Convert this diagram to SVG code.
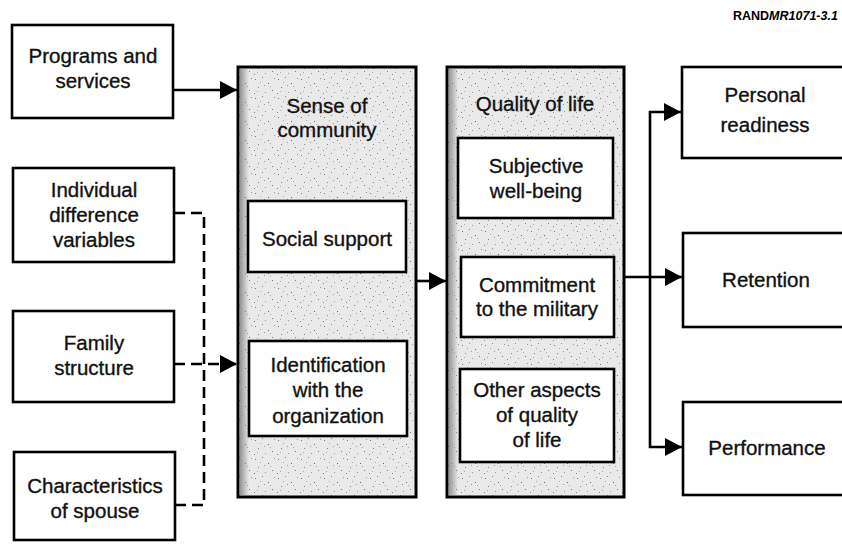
<svg xmlns="http://www.w3.org/2000/svg" width="842" height="546" viewBox="0 0 842 546">
<style>
.box{fill:#fff;stroke:#000;stroke-width:2.6}
.panel{fill:url(#stip);stroke:#000;stroke-width:3}
.t{font-family:"Liberation Sans",Arial,sans-serif;font-size:20.5px;fill:#111;stroke:#111;stroke-width:0.35;text-anchor:middle}
.c{fill:none;stroke:#000;stroke-width:2.6}
.d{fill:none;stroke:#000;stroke-width:2.6;stroke-dasharray:11 6}
</style>
<defs>
<marker id="ah" markerUnits="userSpaceOnUse" markerWidth="18" markerHeight="20" refX="17" refY="10" orient="auto">
<path d="M0,1 L17,10 L0,19 z" fill="#000"/>
</marker>
<pattern id="stip" width="23" height="19" patternUnits="userSpaceOnUse">
<rect width="23" height="19" fill="#e9e9e9"/>
<rect x="2" y="3" width="1" height="1" fill="#777"/>
<rect x="9" y="1" width="1" height="1" fill="#888"/>
<rect x="15" y="7" width="1" height="1" fill="#666"/>
<rect x="5" y="11" width="1" height="1" fill="#888"/>
<rect x="19" y="14" width="1" height="1" fill="#777"/>
<rect x="12" y="16" width="1" height="1" fill="#999"/>
<rect x="7" y="6" width="1" height="1" fill="#aaa"/>
<rect x="21" y="2" width="1" height="1" fill="#999"/>
<rect x="1" y="17" width="1" height="1" fill="#888"/>
<rect x="17" y="10" width="1" height="1" fill="#aaa"/>
<rect x="11" y="9" width="1" height="1" fill="#999"/>
<rect x="4" y="15" width="1" height="1" fill="#aaa"/>
</pattern>
<linearGradient id="edge" x1="0" x2="1" y1="0" y2="0">
<stop offset="0" stop-color="#959595"/>
<stop offset="1" stop-color="#959595" stop-opacity="0"/>
</linearGradient>
</defs>

<text x="733" y="20" font-family="'Liberation Sans',Arial,sans-serif" font-size="12.5" font-weight="bold" fill="#000">RAND<tspan font-style="italic">MR1071-3.1</tspan></text>

<g id="programs">
<rect class="box" x="12" y="25" width="161" height="93"/>
<text class="t" x="93" y="63">Programs and</text>
<text class="t" x="93" y="88">services</text>
</g>
<g id="individual">
<rect class="box" x="13" y="168" width="161" height="94"/>
<text class="t" x="94" y="197">Individual</text>
<text class="t" x="94" y="222">difference</text>
<text class="t" x="94" y="247">variables</text>
</g>
<g id="family">
<rect class="box" x="13" y="311" width="161" height="91"/>
<text class="t" x="94" y="350">Family</text>
<text class="t" x="94" y="375">structure</text>
</g>
<g id="spouse">
<rect class="box" x="14" y="452" width="161" height="88"/>
<text class="t" x="95" y="493">Characteristics</text>
<text class="t" x="95" y="518">of spouse</text>
</g>

<g id="sense">
<rect class="panel" x="238" y="67" width="178" height="430"/>
<rect x="240" y="69" width="9" height="426" fill="url(#edge)"/>
<text class="t" x="327" y="113">Sense of</text>
<text class="t" x="327" y="137">community</text>
<g id="social">
<rect class="box" x="248" y="201" width="158" height="71"/>
<text class="t" x="327" y="246">Social support</text>
</g>
<g id="identification">
<rect class="box" x="249" y="341" width="158" height="95"/>
<text class="t" x="328" y="372">Identification</text>
<text class="t" x="328" y="397">with the</text>
<text class="t" x="328" y="423">organization</text>
</g>
</g>

<g id="quality">
<rect class="panel" x="447" y="67" width="177" height="430"/>
<rect x="449" y="69" width="9" height="426" fill="url(#edge)"/>
<text class="t" x="535" y="111">Quality of life</text>
<g id="subjective">
<rect class="box" x="458" y="138" width="155" height="80"/>
<text class="t" x="536" y="173">Subjective</text>
<text class="t" x="536" y="198">well-being</text>
</g>
<g id="commitment">
<rect class="box" x="461" y="257" width="153" height="80"/>
<text class="t" x="537" y="292">Commitment</text>
<text class="t" x="537" y="316">to the military</text>
</g>
<g id="other">
<rect class="box" x="460" y="369" width="154" height="93"/>
<text class="t" x="537" y="397">Other aspects</text>
<text class="t" x="537" y="422">of quality</text>
<text class="t" x="537" y="447">of life</text>
</g>
</g>

<g id="readiness">
<rect class="box" x="682" y="67" width="170" height="91"/>
<text class="t" x="765" y="102">Personal</text>
<text class="t" x="765" y="132">readiness</text>
</g>
<g id="retention">
<rect class="box" x="683" y="233" width="170" height="94"/>
<text class="t" x="766" y="287">Retention</text>
</g>
<g id="performance">
<rect class="box" x="683" y="402" width="170" height="93"/>
<text class="t" x="767" y="455">Performance</text>
</g>

<g id="connectors">
<path class="c" d="M173,90 H237" marker-end="url(#ah)"/>
<path class="d" d="M174,213 H204 V505 H175"/>
<path class="d" d="M174,364 H237" marker-end="url(#ah)"/>
<path class="c" d="M416,281 H446" marker-end="url(#ah)"/>
<path class="c" d="M624,277 H682" marker-end="url(#ah)"/>
<path class="c" d="M650,277 V112 H681" marker-end="url(#ah)"/>
<path class="c" d="M650,277 V447 H682" marker-end="url(#ah)"/>
</g>
</svg>
